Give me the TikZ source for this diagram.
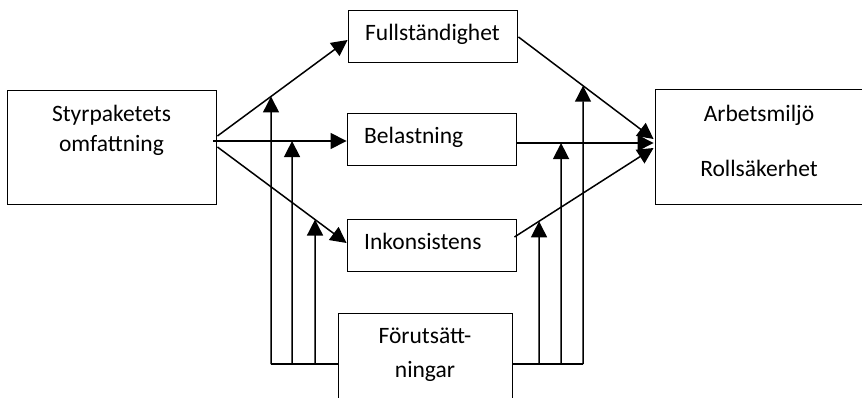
\documentclass[tikz,border=0pt]{standalone}
\usepackage{fontspec}
\setmainfont{Carlito}
\usetikzlibrary{arrows.meta,calc}
\begin{document}
\begin{tikzpicture}[x=1pt,y=-1pt,
  box/.style={draw, line width=0.9pt, inner sep=0pt, rectangle},
  lbl/.style={font=\fontsize{23.5}{28}\selectfont, inner sep=0pt},
  conn/.style={line width=1.5pt},
  arr/.style={conn, -{Triangle[length=16pt,width=16pt]}}]
\useasboundingbox (0,0) rectangle (862,398);
\clip (0,0) rectangle (862,398);
\fill[white] (0,0) rectangle (862,398);

% boxes
\node[box, minimum width=209pt, minimum height=114pt] (sty) at (111.5,147) {};
\node[box, minimum width=169pt, minimum height=52pt] (ful) at (432.5,36) {};
\node[box, minimum width=169pt, minimum height=52pt] (bel) at (431.5,139) {};
\node[box, minimum width=169pt, minimum height=52pt] (ink) at (431.5,245) {};
\node[box, minimum width=174pt, minimum height=117pt] (fur) at (425,371.5) {};
\node[box, minimum width=220pt, minimum height=115pt] (arb) at (765,146.5) {};

% texts
\node[lbl, anchor=base] (styA) at (111.5,122) {Styrpaketets};
\node[lbl, anchor=base] (styB) at (111.5,152) {omfattning};
\node[lbl, anchor=base] (fulT) at (432.5,41) {Fullständighet};
\node[lbl, anchor=base west] (belT) at (364,144) {Belastning};
\node[lbl, anchor=base west] (inkT) at (364,250) {Inkonsistens};
\node[lbl, anchor=base] (furA) at (425,343) {Förutsätt-};
\node[lbl, anchor=base] (furB) at (425,377) {ningar};
\node[lbl, anchor=base] (arbA) at (759,122) {Arbetsmiljö};
\node[lbl, anchor=base] (arbB) at (759,177) {Rollsäkerhet};

% connector end points
\coordinate (s1) at ($(sty.east)+(1,-11)$);
\coordinate (s2) at ($(sty.east)+(-3,-6)$);
\coordinate (s3) at ($(sty.east)+(1,0)$);
\coordinate (t1) at ($(ful.west)+(0,4)$);
\coordinate (t2) at ($(bel.west)+(0,2)$);
\coordinate (t3) at ($(ink.west)+(0,-2)$);
\coordinate (r1) at ($(ful.east)+(1,1)$);
\coordinate (r2) at ($(bel.east)+(0,4)$);
\coordinate (r3) at ($(ink.east)+(-2,-8)$);
\coordinate (a1) at ($(arb.west)+(-1,-7.5)$);
\coordinate (a2) at ($(arb.west)+(-1,-3.5)$);
\coordinate (a3) at ($(arb.west)+(-1,1.5)$);

% left fan
\draw[arr] (s1) -- (t1);
\draw[arr] (s2) -- (t2);
\draw[arr] (s3) -- (t3);
% right fan
\draw[arr] (r1) -- (a1);
\draw[arr] (r2) -- (a2);
\draw[arr] (r3) -- (a3);

% vertical feeders from Förutsättningar
\coordinate (u1) at (271,364); \coordinate (u1t) at (271,0);
\coordinate (u2) at (292,364); \coordinate (u2t) at (292,0);
\coordinate (u3) at (315,364); \coordinate (u3t) at (315,0);
\coordinate (u4) at (539,364); \coordinate (u4t) at (539,0);
\coordinate (u5) at (561,364); \coordinate (u5t) at (561,0);
\coordinate (u6) at (583,364); \coordinate (u6t) at (583,0);

\draw[conn] (u1) -- (u1 -| fur.west);
\draw[conn] (u6 -| fur.east) -- (u6);

\draw[arr] (u1) -- (intersection of s1--t1 and u1--u1t);
\draw[arr] (u2) -- (intersection of s2--t2 and u2--u2t);
\draw[arr] (u3) -- (intersection of s3--t3 and u3--u3t);
\draw[arr] (u4) -- (intersection of r3--a3 and u4--u4t);
\draw[arr] (u5) -- (intersection of r2--a2 and u5--u5t);
\draw[arr] (u6) -- (intersection of r1--a1 and u6--u6t);
\end{tikzpicture}
\end{document}
